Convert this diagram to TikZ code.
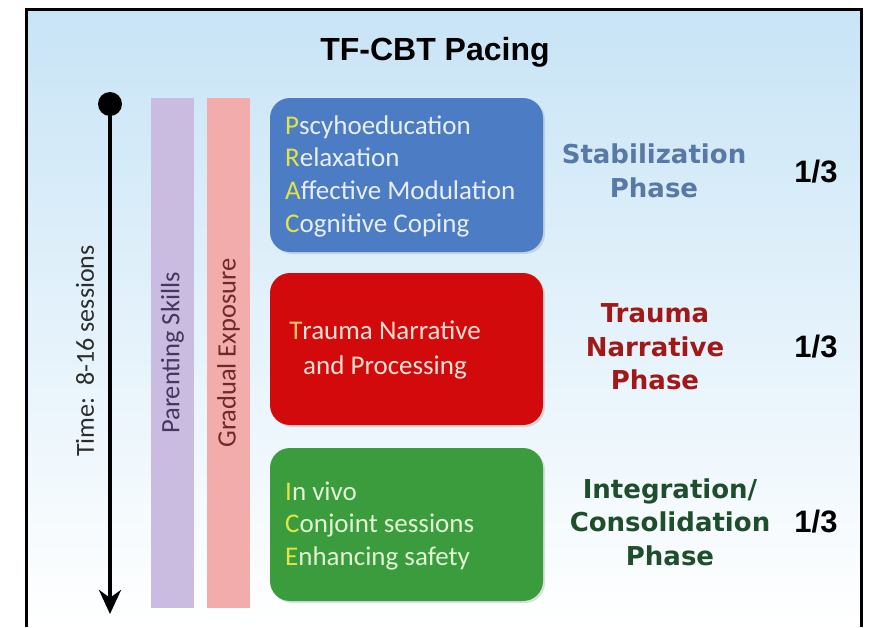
\documentclass[tikz,border=0pt]{standalone}
\usepackage{fontspec}
\setmainfont{Carlito}
\newfontfamily\titlefont{Liberation Sans}
\newfontfamily\phasefont{DejaVu Sans}
\usetikzlibrary{arrows.meta,shadows}
\definecolor{bgtop}{RGB}{200,228,246}
\definecolor{bgmid}{RGB}{224,240,250}
\definecolor{parentc}{RGB}{202,188,224}
\definecolor{gradc}{RGB}{242,172,172}
\definecolor{parenttx}{RGB}{70,54,98}
\definecolor{gradtx}{RGB}{112,40,40}
\definecolor{timetx}{RGB}{45,45,45}
\definecolor{bluebox}{RGB}{76,125,196}
\definecolor{redbox}{RGB}{210,10,12}
\definecolor{greenbox}{RGB}{58,156,60}
\definecolor{initc}{RGB}{226,228,70}
\definecolor{bluetx}{RGB}{232,238,248}
\definecolor{redtx}{RGB}{250,226,214}
\definecolor{redinit}{RGB}{244,196,110}
\definecolor{greentx}{RGB}{226,242,212}
\definecolor{stabc}{RGB}{88,120,165}
\definecolor{traumac}{RGB}{160,24,24}
\definecolor{integc}{RGB}{30,78,44}
\begin{document}
\begin{tikzpicture}[x=1pt,y=-1pt,
  phasebox/.style={rounded corners=20pt, inner sep=0pt, minimum width=273pt,
    drop shadow={opacity=0.25, shadow xshift=2pt, shadow yshift=-2pt}},
  boxtext/.style={inner sep=0pt, align=left, anchor=west,
    font=\fontsize{27}{32.7}\selectfont},
  bar/.style={rotate=90, inner sep=0pt, minimum width=510pt, minimum height=43pt,
    font=\fontsize{26.5}{30}\selectfont},
  phaselabel/.style={inner sep=0pt, align=center,
    font=\phasefont\bfseries\fontsize{26}{33.5}\selectfont},
  third/.style={inner sep=0pt, font=\titlefont\bfseries\fontsize{31}{36}\selectfont}]
\useasboundingbox (0,0) rectangle (877,627);
\fill[white] (0,0) rectangle (877,627);
\shade[top color=bgtop, middle color=bgmid, bottom color=white] (28,11) rectangle (860,627);
\draw[line width=3pt] (26.5,627) -- (26.5,9.5) -- (861.5,9.5) -- (861.5,627);

% title
\node[inner sep=0pt, font=\titlefont\bfseries\fontsize{32}{38}\selectfont] (title) at (435,52) {TF-CBT Pacing};

% timeline
\node[circle, fill=black, inner sep=0pt, minimum size=24pt] (dot) at (110,104) {};
\coordinate (arrowend) at (110,614);
\draw[line width=4.5pt, -{Stealth[length=24pt,width=22pt]}] (dot.center) -- (arrowend);
\node[rotate=90, inner sep=0pt, text=timetx, font=\fontsize{26}{30}\selectfont] (time) at (85,351) {Time:\ \ 8-16 sessions};

% bars
\node[bar, fill=parentc, text=parenttx] (pbar) at (172.5,353) {Parenting Skills};
\node[bar, fill=gradc, text=gradtx] (gbar) at (228.5,353) {Gradual Exposure};

% boxes
\node[phasebox, fill=bluebox, minimum height=154pt] (stab) at (406.5,175) {};
\node[phasebox, fill=redbox, minimum height=152pt] (trauma) at (406.5,349) {};
\node[phasebox, fill=greenbox, minimum height=153pt] (integ) at (406.5,524.5) {};

\node[boxtext, text=bluetx] (stabtext) at (285,176)
  {\textcolor{initc}{P}scyhoeducation\\\textcolor{initc}{R}elaxation\\\textcolor{initc}{A}ffective Modulation\\\textcolor{initc}{C}ognitive Coping};
\node[inner sep=0pt, align=center, text=redtx, font=\fontsize{27}{35}\selectfont] (traumatext) at (385,350)
  {\textcolor{redinit}{T}rauma Narrative\\and Processing};
\node[boxtext, text=greentx] (integtext) at (285,526)
  {\textcolor{initc}{I}n vivo\\\textcolor{initc}{C}onjoint sessions\\\textcolor{initc}{E}nhancing safety};

% phase labels
\node[phaselabel, text=stabc] (stabl) at (654,171) {Stabilization\\Phase};
\node[phaselabel, text=traumac] (traumal) at (655,347) {Trauma\\Narrative\\Phase};
\node[phaselabel, text=integc] (integl) at (670,522) {Integration/\\Consolidation\\Phase};

\node[third] (t1) at (816,172) {1/3};
\node[third] (t2) at (816,347) {1/3};
\node[third] (t3) at (816,522) {1/3};
\end{tikzpicture}
\end{document}
